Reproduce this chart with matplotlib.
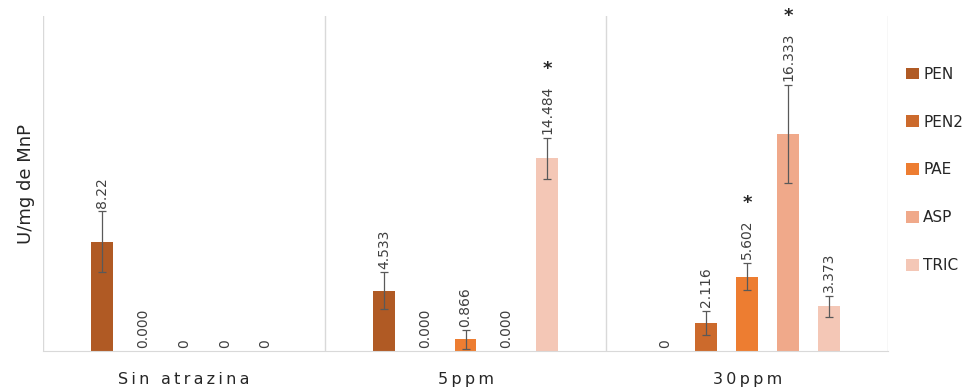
import matplotlib
matplotlib.use("Agg")
import matplotlib.pyplot as plt
from matplotlib.patches import Patch
import numpy as np

categories = ["Sin atrazina", "5ppm", "30ppm"]
series = ["PEN", "PEN2", "PAE", "ASP", "TRIC"]
colors = ["#B05A24", "#CC6A2C", "#ED7D31", "#F0A98A", "#F4C7B6"]

# values per series, one entry per category
values = {
    "PEN":  [8.22, 4.533, 0.0],
    "PEN2": [0.0, 0.0, 2.116],
    "PAE":  [0.0, 0.866, 5.602],
    "ASP":  [0.0, 0.0, 16.333],
    "TRIC": [0.0, 14.484, 3.373],
}
errors = {
    "PEN":  [2.3, 1.4, 0.0],
    "PEN2": [0.0, 0.0, 0.9],
    "PAE":  [0.0, 0.7, 1.05],
    "ASP":  [0.0, 0.0, 3.7],
    "TRIC": [0.0, 1.55, 0.8],
}
labels = {
    "PEN":  ["8.22", "4.533", "0"],
    "PEN2": ["0.000", "0.000", "2.116"],
    "PAE":  ["0", "0.866", "5.602"],
    "ASP":  ["0", "0.000", "16.333"],
    "TRIC": ["0", "14.484", "3.373"],
}
significant = {("TRIC", 1), ("PAE", 2), ("ASP", 2)}

fig = plt.figure(figsize=(9.69, 3.91), dpi=100)
ax = fig.add_axes([0.0444, 0.1023, 0.8720, 0.8567])
ax.set_xlim(0, 3)
ax.set_ylim(0, 25.2)

spacing = 0.145
width = 0.078
centers = np.arange(len(categories)) + 0.5
label_color = "#404040"

texts = []
for i, s in enumerate(series):
    xs = centers + (i - 2) * spacing
    v = np.array(values[s])
    e = np.array(errors[s])
    ax.bar(xs, v, width=width, color=colors[i], zorder=2)
    for j in range(len(categories)):
        if e[j] > 0:
            ax.errorbar(xs[j], v[j], yerr=e[j], fmt="none", ecolor="#595959",
                        elinewidth=0.9, capsize=3, capthick=0.9, zorder=3)
        t = ax.annotate(labels[s][j], (xs[j], v[j] + e[j]), xytext=(0, 2.5),
                        textcoords="offset points", rotation=90,
                        ha="center", va="bottom", fontsize=10,
                        color=label_color, zorder=4)
        texts.append((t, s, j, xs[j]))

# category separators and frame
for x in [0, 1, 2, 3]:
    ax.axvline(x, color="#D9D9D9", lw=1.0, zorder=1)
for side in ["top", "right", "left"]:
    ax.spines[side].set_visible(False)
ax.spines["bottom"].set_color("#D9D9D9")
ax.set_yticks([])
ax.set_xticks(centers)
ax.set_xticklabels(["\u2009".join(c) for c in categories], fontsize=11.5,
                   color="#262626")
ax.tick_params(axis="x", length=0, pad=15)
ax.set_ylabel("U/mg de MnP", fontsize=13, color="#262626", labelpad=6)

# significance markers above the value labels
fig.canvas.draw()
inv = ax.transData.inverted()
for t, s, j, x in texts:
    if (s, j) in significant:
        bb = t.get_window_extent()
        y_top = inv.transform((bb.x0, bb.y1 + 17))[1]
        ax.text(x, y_top, "*", ha="center", va="center", fontsize=13,
                color="#262626", fontweight="bold")

handles = [Patch(facecolor=c, edgecolor="none") for c in colors]
fig.legend(handles, series, loc="upper left", bbox_to_anchor=(0.929, 0.845),
           frameon=False, fontsize=11, handlelength=0.8, handleheight=0.8,
           labelspacing=2.15, handletextpad=0.3, borderaxespad=0.0,
           labelcolor="#262626")

fig.savefig("out.png", dpi=100)
